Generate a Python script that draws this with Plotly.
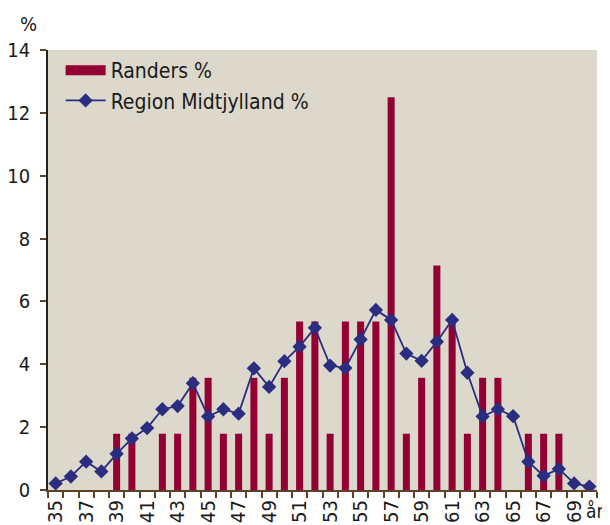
import plotly.graph_objects as go

ages = list(range(35, 71))
randers = [0, 0, 0, 0, 1.79, 1.79, 0, 1.79, 1.79, 3.57, 3.57, 1.79, 1.79, 3.57, 1.79, 3.57,
           5.36, 5.36, 1.79, 5.36, 5.36, 5.36, 12.5, 1.79, 3.57, 7.14, 5.36, 1.79, 3.57, 3.57,
           0, 1.79, 1.79, 1.79, 0, 0]
region = [0.21, 0.43, 0.90, 0.59, 1.15, 1.64, 1.97, 2.57, 2.67, 3.40, 2.34, 2.57, 2.43, 3.87,
          3.28, 4.10, 4.56, 5.16, 3.96, 3.88, 4.79, 5.73, 5.41, 4.34, 4.11, 4.72, 5.41, 3.73,
          2.34, 2.57, 2.35, 0.90, 0.45, 0.67, 0.21, 0.11]
xtick_vals = list(range(35, 70, 2))
xtick_text = [str(v) for v in xtick_vals]
ytick_vals = list(range(0, 15, 2))

FONT = "DejaVu Sans Condensed, DejaVu Sans, sans-serif"
BAR = "#930033"
LINE = "#2b2d80"
AXIS = "#5a4326"

fig = go.Figure()
fig.add_trace(go.Bar(x=ages, y=randers, name="Randers %", marker_color=BAR,
                     marker_line_width=0, showlegend=False))
# legend-only entry so the bar key is drawn as a wide block like the reference
fig.add_trace(go.Scatter(x=[None], y=[None], name="Randers %", mode="lines",
                         line=dict(color=BAR, width=11)))
fig.add_trace(go.Scatter(x=ages, y=region, name="Region Midtjylland %", mode="lines+markers",
                         line=dict(color=LINE, width=1.8),
                         marker=dict(symbol="diamond", size=11, color=LINE)))

# page body has an 8px margin, so the figure is sized to fit the 610x525 window
fig.update_layout(
    width=602, height=517,
    margin=dict(l=40, r=13, t=42, b=35, autoexpand=False),
    paper_bgcolor="white", plot_bgcolor="#dcd8cb",
    bargap=0.54,
    font=dict(family=FONT, size=19, color="#1a1a1a"),
    showlegend=True,
    legend=dict(x=0.023, y=1.0, xanchor="left", yanchor="top",
                bgcolor="rgba(0,0,0,0)", font=dict(size=21), tracegroupgap=0,
                itemwidth=40),
    xaxis=dict(range=[34.5, 70.5], tickmode="array", tickvals=xtick_vals, ticktext=xtick_text,
               tickangle=-90, ticks="", showgrid=False, zeroline=False, automargin=False,
               showline=True, linecolor=AXIS, linewidth=2,
               minor=dict(tick0=34.5, dtick=1, ticks="outside", ticklen=6,
                          tickcolor=AXIS, tickwidth=1.5, showgrid=False),
               tickfont=dict(size=20)),
    yaxis=dict(range=[0, 14], tickvals=ytick_vals, ticks="outside", ticklen=6, automargin=False,
               tickcolor=AXIS, tickwidth=1.5, showgrid=False, zeroline=False,
               showline=True, linecolor="#222222", linewidth=1.5, mirror=False,
               tickfont=dict(size=20), ticklabelstandoff=6),
    xaxis2=dict(range=[34.5, 70.5], overlaying="x", side="top", showticklabels=False,
                tickmode="array", tickvals=[], showgrid=False, zeroline=False, automargin=False,
                showline=True, linecolor="#333333", linewidth=2),
    yaxis2=dict(range=[0, 14], overlaying="y", side="right", showticklabels=False,
                tickvals=[], showgrid=False, zeroline=False, automargin=False,
                showline=True, linecolor="#444444", linewidth=2),
    xaxis3=dict(range=[34.5, 70.5], overlaying="x", anchor="y", showticklabels=False,
                tickmode="array", tickvals=[], showgrid=False, zeroline=False, showline=False,
                automargin=False,
                minor=dict(tick0=34.5, dtick=1, ticks="inside", ticklen=6,
                           tickcolor=AXIS, tickwidth=1.5, showgrid=False)),
    yaxis3=dict(range=[0, 14], overlaying="y", side="left", showticklabels=False,
                tickvals=ytick_vals, ticks="inside", ticklen=6, tickcolor=AXIS, tickwidth=1.5,
                showgrid=False, zeroline=False, showline=False, automargin=False),
    annotations=[
        dict(text="%", xref="paper", yref="paper", x=-0.035, y=1.0, yshift=12,
             xanchor="center", yanchor="bottom", showarrow=False, font=dict(size=20)),
        dict(text="år", xref="paper", yref="paper", x=1.0, y=0, xshift=-2, yshift=-8,
             xanchor="center", yanchor="top", showarrow=False, font=dict(size=19)),
    ],
)
fig.write_html("out.html")
